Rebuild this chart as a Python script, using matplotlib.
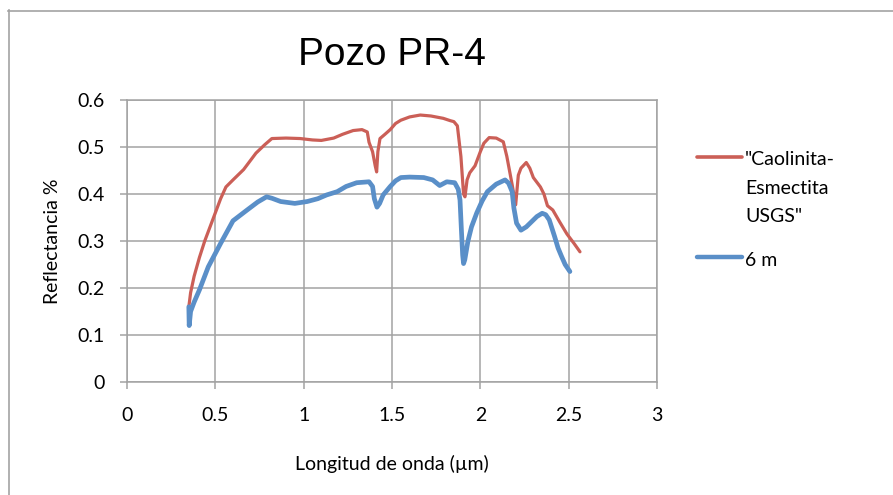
import matplotlib.pyplot as plt
from matplotlib.lines import Line2D

# "Caolinita-Esmectita USGS" reference spectrum
ref_x = [0.35, 0.36, 0.38, 0.41, 0.44, 0.47, 0.50, 0.53, 0.56, 0.60, 0.66, 0.73,
         0.78, 0.82, 0.90, 0.98, 1.05, 1.10, 1.17, 1.22, 1.28, 1.33, 1.36, 1.37,
         1.39, 1.405, 1.413, 1.42, 1.432, 1.46, 1.49, 1.52, 1.55, 1.60, 1.66, 1.72,
         1.79, 1.83, 1.85, 1.87, 1.89, 1.905, 1.913, 1.925, 1.94, 1.97, 2.00, 2.02,
         2.05, 2.09, 2.13, 2.15, 2.18, 2.20, 2.215, 2.23, 2.26, 2.28, 2.30, 2.34,
         2.36, 2.38, 2.41, 2.45, 2.49, 2.53, 2.564]
ref_y = [0.16, 0.19, 0.225, 0.265, 0.30, 0.33, 0.36, 0.39, 0.415, 0.43, 0.452, 0.487,
         0.505, 0.518, 0.519, 0.518, 0.515, 0.514, 0.519, 0.527, 0.535, 0.537, 0.532, 0.51,
         0.49, 0.46, 0.447, 0.49, 0.518, 0.527, 0.537, 0.55, 0.557, 0.564, 0.568, 0.566,
         0.561, 0.556, 0.554, 0.545, 0.48, 0.40, 0.394, 0.43, 0.445, 0.46, 0.49, 0.508,
         0.52, 0.519, 0.511, 0.48, 0.42, 0.377, 0.44, 0.455, 0.467, 0.455, 0.435, 0.415,
         0.40, 0.375, 0.366, 0.34, 0.315, 0.295, 0.277]

# sample at 6 m
m6_x = [0.35, 0.352, 0.36, 0.38, 0.41, 0.46, 0.53, 0.60, 0.68, 0.74, 0.79, 0.82,
        0.87, 0.95, 1.02, 1.08, 1.13, 1.19, 1.24, 1.30, 1.37, 1.39, 1.40, 1.415,
        1.43, 1.45, 1.49, 1.52, 1.55, 1.60, 1.68, 1.73, 1.77, 1.81, 1.855, 1.875,
        1.885, 1.892, 1.90, 1.905, 1.912, 1.93, 1.95, 1.98, 2.01, 2.04, 2.09, 2.14,
        2.16, 2.18, 2.19, 2.205, 2.23, 2.26, 2.29, 2.32, 2.35, 2.37, 2.39, 2.42,
        2.44, 2.46, 2.48, 2.507]
m6_y = [0.16, 0.12, 0.15, 0.17, 0.196, 0.245, 0.295, 0.343, 0.366, 0.383, 0.394, 0.391,
        0.384, 0.38, 0.384, 0.39, 0.398, 0.405, 0.416, 0.424, 0.426, 0.416, 0.39, 0.372,
        0.38, 0.398, 0.416, 0.428, 0.435, 0.436, 0.435, 0.43, 0.418, 0.426, 0.424, 0.41,
        0.387, 0.33, 0.27, 0.252, 0.26, 0.30, 0.33, 0.36, 0.385, 0.405, 0.421, 0.43,
        0.423, 0.405, 0.37, 0.338, 0.323, 0.33, 0.341, 0.352, 0.359, 0.356, 0.345, 0.31,
        0.285, 0.267, 0.25, 0.235]

x_ticks = [0, 0.5, 1, 1.5, 2, 2.5, 3]
y_ticks = [0, 0.1, 0.2, 0.3, 0.4, 0.5, 0.6]
labels = ['"Caolinita-\nEsmectita\nUSGS"', '6 m']
red = '#CB5F57'
blue = '#5A8FC8'
grid_c = '#A3A3A3'
W, H = 893, 495
fs = 14

fig = plt.figure(figsize=(8.93, 4.95), dpi=100)
ax = fig.add_axes([127 / W, 1 - 382 / H, 530 / W, 282 / H])

ax.plot(ref_x, ref_y, color=red, lw=2.3, solid_capstyle='round', zorder=3)
ax.plot(m6_x, m6_y, color=blue, lw=3.4, solid_capstyle='round', zorder=3)

ax.set_xlim(0, 3)
ax.set_ylim(0, 0.6)
ax.set_xticks(x_ticks)
ax.set_yticks(y_ticks)
ax.set_xticklabels([f'{v:g}' for v in x_ticks], family='Lato', fontsize=fs)
ax.set_yticklabels([f'{v:g}' for v in y_ticks], family='Lato', fontsize=fs)
ax.grid(True, color=grid_c, lw=1.1)
ax.set_axisbelow(True)
for s in ax.spines.values():
    s.set_color(grid_c)
    s.set_linewidth(1.1)
ax.tick_params(axis='both', color=grid_c, width=1.1, length=5, direction='out')
ax.tick_params(axis='x', pad=13)
ax.tick_params(axis='y', pad=11)

ax.set_title('Pozo PR-4', family='Liberation Sans', fontsize=28, pad=25)
ax.set_xlabel('Longitud de onda (µm)', family='Lato', fontsize=fs, labelpad=22)
ax.set_ylabel('Reflectancia %', family='Lato', fontsize=fs, labelpad=12)

# legend: one line per text row, first row next to the handle
fig.add_artist(Line2D([697 / W, 742 / W], [1 - 157 / H] * 2, transform=fig.transFigure,
                      color=red, lw=2.6, solid_capstyle='round'))
for i, row in enumerate(labels[0].split('\n')):
    fig.text(745 / W, 1 - (165 + 28.5 * i) / H, row, family='Lato', fontsize=fs,
             va='baseline', ha='left')
fig.add_artist(Line2D([697 / W, 742 / W], [1 - 257 / H] * 2, transform=fig.transFigure,
                      color=blue, lw=3.2, solid_capstyle='round'))
fig.text(745 / W, 1 - 266 / H, labels[1], family='Lato', fontsize=fs,
         va='baseline', ha='left')

# outer chart frame
fig.add_artist(Line2D([8.5 / W, 8.5 / W], [1 - 10 / H, 0], transform=fig.transFigure,
                      color=grid_c, lw=1.2))
fig.add_artist(Line2D([8 / W, 1], [1 - 10.5 / H] * 2, transform=fig.transFigure,
                      color=grid_c, lw=1.2))

fig.savefig('out.png', dpi=100, facecolor='white')
